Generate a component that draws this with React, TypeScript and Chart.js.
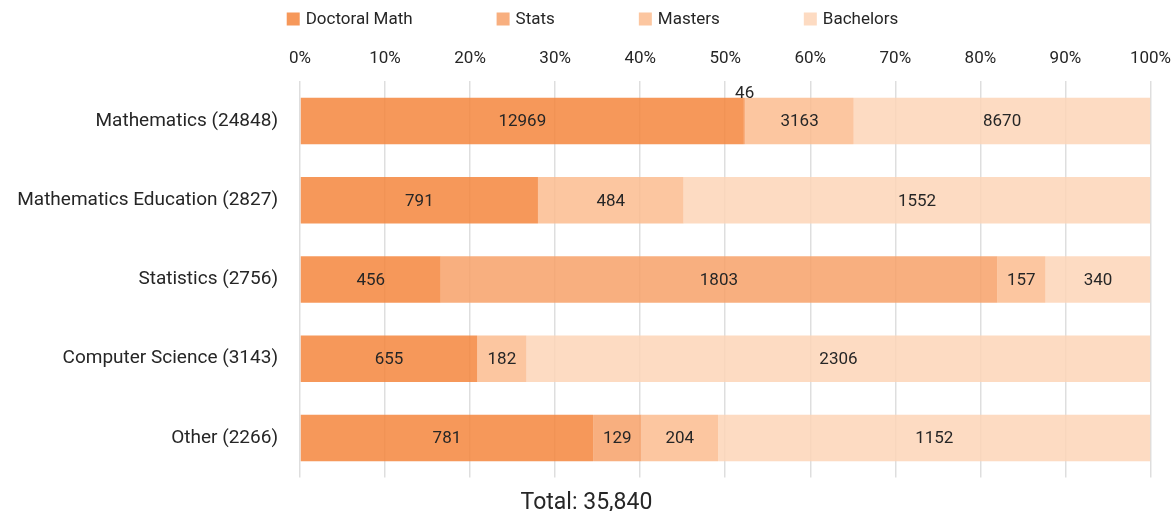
import React, { useEffect, useRef } from "react";
import { Chart, registerables } from "chart.js";

Chart.register(...registerables);

const categories = [
  "Mathematics (24848)",
  "Mathematics Education (2827)",
  "Statistics (2756)",
  "Computer Science (3143)",
  "Other (2266)",
];
const seriesNames = ["Doctoral Math", "Stats", "Masters", "Bachelors"];
const doctoralMath = [12969, 791, 456, 655, 781];
const stats = [46, 0, 1803, 0, 129];
const masters = [3163, 484, 157, 182, 204];
const bachelors = [8670, 1552, 340, 2306, 1152];
const xTicks = [0, 10, 20, 30, 40, 50, 60, 70, 80, 90, 100];
const titleText = "Total: 35,840";

const colors = [
  "rgba(244,134,61,0.85)",
  "rgba(247,161,104,0.85)",
  "rgba(251,188,143,0.85)",
  "rgba(253,213,183,0.85)",
];
const legendColors = ["#F6985A", "#F8AF7F", "#FCC6A0", "#FDDBC2"];

const FONT = "Roboto, 'Noto Sans', sans-serif";
const TEXT = "#262626";

export default function App() {
  const ref = useRef<HTMLCanvasElement | null>(null);

  useEffect(() => {
    document.body.style.margin = "0";
    const counts = [doctoralMath, stats, masters, bachelors];
    const totals = categories.map((_, j) =>
      counts.reduce((s, arr) => s + arr[j], 0)
    );
    const datasets = counts.map((arr, i) => ({
      label: seriesNames[i],
      data: arr.map((v, j) => (v / totals[j]) * 100),
      backgroundColor: colors[i],
      borderWidth: 0,
      barPercentage: 0.585,
      categoryPercentage: 1,
    }));

    const labelPlugin = {
      id: "segLabels",
      afterDatasetsDraw(chart: any) {
        const ctx = chart.ctx;
        ctx.save();
        ctx.font = `17px ${FONT}`;
        ctx.fillStyle = TEXT;
        ctx.textAlign = "center";
        chart.data.datasets.forEach((_: any, i: number) => {
          const meta = chart.getDatasetMeta(i);
          meta.data.forEach((bar: any, j: number) => {
            const v = counts[i][j];
            if (!v) return;
            const p = bar.getProps(["x", "y", "base", "height"], true);
            const w = Math.abs(p.x - p.base);
            const cx = (p.x + p.base) / 2;
            const txt = String(v);
            const tw = ctx.measureText(txt).width;
            if (w < tw + 4) {
              ctx.textBaseline = "bottom";
              ctx.fillText(txt, cx, p.y - p.height / 2 + 4);
            } else {
              ctx.textBaseline = "middle";
              ctx.fillText(txt, cx, p.y + 1);
            }
          });
        });
        ctx.restore();
      },
    };

    const legendPlugin = {
      id: "topLegend",
      afterDraw(chart: any) {
        const ctx = chart.ctx;
        ctx.save();
        ctx.font = `17px ${FONT}`;
        const box = 13;
        const gapText = 6;
        const gapItem = 84;
        const widths = seriesNames.map(
          (n) => box + gapText + ctx.measureText(n).width
        );
        const total =
          widths.reduce((a, b) => a + b, 0) + gapItem * (seriesNames.length - 1);
        let x = chart.width / 2 - total / 2 + 6;
        const y = 19;
        seriesNames.forEach((n, i) => {
          ctx.fillStyle = legendColors[i];
          ctx.fillRect(x, y - box / 2, box, box);
          ctx.fillStyle = TEXT;
          ctx.textBaseline = "middle";
          ctx.textAlign = "left";
          ctx.fillText(n, x + box + gapText, y + 1);
          x += widths[i] + gapItem;
        });
        ctx.restore();
      },
    };

    const chart = new Chart(ref.current as HTMLCanvasElement, {
      type: "bar",
      data: { labels: categories, datasets },
      plugins: [labelPlugin, legendPlugin],
      options: {
        indexAxis: "y",
        animation: false,
        responsive: true,
        maintainAspectRatio: false,
        layout: { padding: { top: 47, right: 0, left: 0, bottom: 0 } },
        plugins: {
          legend: { display: false },
          tooltip: { enabled: false },
          title: {
            display: true,
            text: titleText,
            position: "bottom",
            color: TEXT,
            font: { family: FONT, size: 23, weight: "normal" },
            padding: { top: 12, bottom: -11 },
          },
        },
        scales: {
          x: {
            position: "top",
            stacked: true,
            min: 0,
            max: 100,
            afterBuildTicks: (scale: any) => {
              scale.ticks = xTicks.map((v) => ({ value: v }));
            },
            grid: {
              color: "rgba(0,0,0,0.13)",
              lineWidth: 1.5,
              drawTicks: true,
              tickLength: 10,
              tickColor: "rgba(0,0,0,0)",
            },
            border: { display: false },
            ticks: {
              padding: 2,
              color: TEXT,
              font: { family: FONT, size: 17 },
              callback: (v: any) => `${v}%`,
            },
          },
          y: {
            stacked: true,
            grid: { display: false, drawTicks: false },
            border: { display: false },
            afterFit: (scale: any) => {
              scale.width = 300;
            },
            ticks: {
              padding: 22,
              color: TEXT,
              font: { family: FONT, size: 19 },
            },
          },
        },
      },
    } as any);
    return () => chart.destroy();
  }, []);

  return (
    <div style={{ width: "1173px", height: "511px", position: "relative" }}>
      <canvas ref={ref} />
    </div>
  );
}
